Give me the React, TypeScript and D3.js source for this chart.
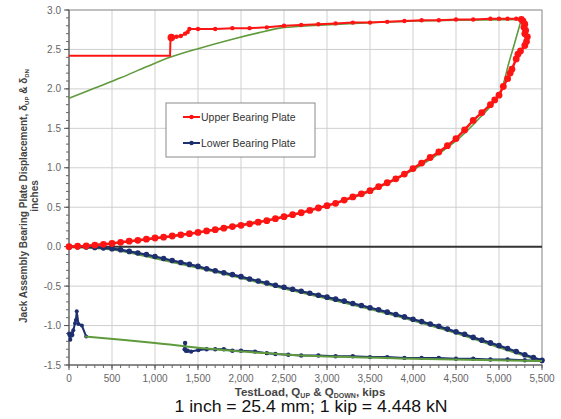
import React from "react";
import * as d3 from "d3";

type P = [number, number];

// upper bearing plate, loading branch
const upperLoad: P[] = [
  [0, 0], [100, 0.005], [200, 0.01], [300, 0.02], [400, 0.03], [500, 0.04], [600, 0.055],
  [700, 0.07], [800, 0.08], [900, 0.095], [1000, 0.11], [1100, 0.12], [1200, 0.135],
  [1300, 0.15], [1400, 0.165], [1500, 0.18], [1600, 0.2], [1700, 0.215], [1800, 0.235],
  [1900, 0.255], [2000, 0.27], [2100, 0.29], [2200, 0.31], [2300, 0.33], [2400, 0.355],
  [2500, 0.38], [2600, 0.405], [2700, 0.43], [2800, 0.46], [2900, 0.49], [3000, 0.52],
  [3100, 0.55], [3200, 0.59], [3300, 0.63], [3400, 0.67], [3500, 0.71], [3600, 0.76],
  [3700, 0.81], [3800, 0.86], [3900, 0.92], [4000, 0.99], [4100, 1.06], [4200, 1.13],
  [4300, 1.2], [4400, 1.28], [4500, 1.37], [4600, 1.48], [4700, 1.6], [4800, 1.7],
  [4900, 1.8], [4950, 1.86], [5000, 1.92], [5050, 2.03], [5100, 2.13], [5130, 2.2],
  [5150, 2.25], [5200, 2.38], [5220, 2.44], [5250, 2.48], [5300, 2.55], [5320, 2.6],
  [5330, 2.66], [5300, 2.7], [5310, 2.74], [5290, 2.78], [5300, 2.82], [5280, 2.86],
  [5260, 2.88],
];

// upper bearing plate, unloading branch
const upperUnload: P[] = [
  [5260, 2.88], [5200, 2.89], [5100, 2.89], [5000, 2.89], [4900, 2.89], [4700, 2.88],
  [4500, 2.88], [4300, 2.87], [4100, 2.87], [3900, 2.86], [3700, 2.85], [3500, 2.84],
  [3300, 2.84], [3100, 2.83], [2900, 2.82], [2700, 2.81], [2500, 2.8], [2300, 2.78],
  [2100, 2.77], [1900, 2.77], [1700, 2.76], [1500, 2.76], [1400, 2.76], [1380, 2.72],
  [1350, 2.7], [1300, 2.67], [1250, 2.66], [1200, 2.66], [1180, 2.64],
];
const upperTail: P[] = [[1180, 2.64], [1175, 2.42], [1000, 2.42], [0, 2.42]];

// lower bearing plate
const lowerLoad: P[] = [
  [0, 0], [100, 0], [200, -0.005], [300, -0.01], [400, -0.015], [500, -0.025], [600, -0.04],
  [700, -0.06], [800, -0.08], [900, -0.1], [1000, -0.125], [1100, -0.15], [1200, -0.175],
  [1300, -0.2], [1400, -0.225], [1500, -0.25], [1600, -0.28], [1700, -0.305], [1800, -0.33],
  [1900, -0.355], [2000, -0.38], [2100, -0.41], [2200, -0.435], [2300, -0.46], [2400, -0.49],
  [2500, -0.515], [2600, -0.54], [2700, -0.565], [2800, -0.59], [2900, -0.615], [3000, -0.64],
  [3100, -0.665], [3200, -0.69], [3300, -0.72], [3400, -0.745], [3500, -0.775], [3600, -0.8],
  [3700, -0.83], [3800, -0.86], [3900, -0.89], [4000, -0.92], [4100, -0.95], [4200, -0.98],
  [4300, -1.01], [4400, -1.045], [4500, -1.08], [4600, -1.11], [4700, -1.15], [4800, -1.185],
  [4900, -1.22], [5000, -1.255], [5100, -1.29], [5200, -1.33], [5300, -1.37], [5400, -1.405],
  [5500, -1.44],
];
const lowerUnload: P[] = [
  [5500, -1.45], [5300, -1.44], [5100, -1.43], [4900, -1.43], [4700, -1.42], [4500, -1.42],
  [4300, -1.41], [4100, -1.41], [3900, -1.41], [3700, -1.4], [3500, -1.4], [3300, -1.39],
  [3100, -1.39], [2900, -1.38], [2700, -1.38], [2550, -1.37], [2400, -1.36], [2300, -1.35],
  [2163, -1.33], [2000, -1.32], [1900, -1.32], [1800, -1.3], [1700, -1.3], [1600, -1.3],
  [1504, -1.31], [1420, -1.33], [1380, -1.32], [1360, -1.32], [1350, -1.22], [1345, -1.3],
];
const lowerEnd: P[] = [
  [200, -1.14], [150, -1.0], [110, -0.98], [90, -0.82], [80, -0.93], [70, -0.97],
  [50, -1.06], [40, -1.12], [30, -1.1], [15, -1.18], [5, -1.12], [0, -1.1],
];

// fitted curves
const fitUpperLoad: P[] = [
  [0, 0], [500, 0.04], [1000, 0.1], [1500, 0.18], [2000, 0.28], [2500, 0.38], [3000, 0.52],
  [3500, 0.7], [4000, 0.97], [4500, 1.34], [4800, 1.66], [5000, 1.92], [5120, 2.35], [5260, 2.88],
];
const fitUpperUnload: P[] = [
  [5260, 2.88], [4500, 2.87], [3500, 2.84], [2800, 2.8], [2450, 2.77], [2200, 2.71],
  [1900, 2.63], [1500, 2.51], [1174, 2.4], [900, 2.28], [600, 2.14], [300, 2.01], [0, 1.88],
];
const fitLowerLoad: P[] = [
  [0, 0], [500, -0.03], [1000, -0.14], [1500, -0.26], [2000, -0.39], [2500, -0.525],
  [3000, -0.65], [3500, -0.785], [4000, -0.93], [4500, -1.09], [5000, -1.27], [5500, -1.45],
];
const fitLowerUnload: P[] = [
  [5500, -1.45], [4000, -1.42], [2700, -1.38], [2163, -1.34], [1500, -1.28], [1000, -1.22],
  [186, -1.14],
];

const yTicks = [-1.5, -1.0, -0.5, 0.0, 0.5, 1.0, 1.5, 2.0, 2.5, 3.0];
const xTicks = [0, 500, 1000, 1500, 2000, 2500, 3000, 3500, 4000, 4500, 5000, 5500];

const RED = "#ff1414";
const BLUE = "#1d2f6f";
const GREEN = "#5f9a3c";

export default function App() {
  const W = 561, H = 419;
  const L = 69, R = 542, T = 10, B = 365;
  const x = d3.scaleLinear().domain([0, 5500]).range([L, R]);
  const y = d3.scaleLinear().domain([-1.5, 3.0]).range([B, T]);
  const line = d3.line<P>().x(d => x(d[0])).y(d => y(d[1]));
  const smooth = d3.line<P>().x(d => x(d[0])).y(d => y(d[1])).curve(d3.curveCatmullRom);
  const font = "Arial, 'Liberation Sans', sans-serif";
  const minorY = d3.range(-15, 31).map(i => i / 10);
  const minorX = d3.range(0, 56).map(i => i * 100);

  const dots = (pts: P[], color: string, r: number) =>
    pts.map((d, i) => <circle key={i} cx={x(d[0])} cy={y(d[1])} r={r} fill={color} />);

  return (
    <svg width={W} height={H} style={{ position: "absolute", left: 0, top: 0, background: "#fff" }}>
      {/* grid */}
      {xTicks.map(t => (
        <line key={"gx" + t} x1={x(t)} x2={x(t)} y1={T} y2={B} stroke="#cfcfcf" strokeWidth={1} />
      ))}
      {yTicks.map(t => (
        <line key={"gy" + t} x1={L} x2={R} y1={y(t)} y2={y(t)} stroke="#cfcfcf" strokeWidth={1} />
      ))}
      <rect x={L} y={T} width={R - L} height={B - T} fill="none" stroke="#9a9a9a" strokeWidth={1} />
      <line x1={L} x2={R} y1={y(0)} y2={y(0)} stroke="#333" strokeWidth={2} />

      {/* axes */}
      <line x1={L} x2={L} y1={T} y2={B} stroke="#555" />
      <line x1={L} x2={R} y1={B} y2={B} stroke="#555" />
      {minorY.map(t => (
        <line key={"my" + t} x1={L - 3} x2={L} y1={y(t)} y2={y(t)} stroke="#666" />
      ))}
      {yTicks.map(t => (
        <g key={"ty" + t}>
          <line x1={L - 5} x2={L} y1={y(t)} y2={y(t)} stroke="#555" />
          <text x={L - 8} y={y(t) + 3.5} textAnchor="end" fontSize={10} fill="#666" fontFamily={font}>
            {t.toFixed(1)}
          </text>
        </g>
      ))}
      {minorX.map(t => (
        <line key={"mx" + t} x1={x(t)} x2={x(t)} y1={B} y2={B + 3} stroke="#666" />
      ))}
      {xTicks.map(t => (
        <g key={"tx" + t}>
          <line x1={x(t)} x2={x(t)} y1={B} y2={B + 5} stroke="#555" />
          <text x={x(t)} y={B + 17} textAnchor="middle" fontSize={10} fill="#666" fontFamily={font}>
            {d3.format(",")(t)}
          </text>
        </g>
      ))}

      {/* fits drawn under the data */}
      <path d={smooth(fitUpperLoad) || ""} fill="none" stroke={GREEN} strokeWidth={1.6} />
      <path d={smooth(fitUpperUnload) || ""} fill="none" stroke={GREEN} strokeWidth={1.6} />
      <path d={smooth(fitLowerLoad) || ""} fill="none" stroke={GREEN} strokeWidth={3} />

      {/* lower bearing plate */}
      <path d={line(lowerLoad) || ""} fill="none" stroke={BLUE} strokeWidth={2.2} />
      {dots(lowerLoad, BLUE, 2.8)}
      <path d={line(lowerUnload) || ""} fill="none" stroke={BLUE} strokeWidth={2} />
      {dots(lowerUnload, BLUE, 2.2)}
      <path d={line(lowerEnd) || ""} fill="none" stroke={BLUE} strokeWidth={2} />
      {dots(lowerEnd, BLUE, 2)}
      <path d={smooth(fitLowerUnload) || ""} fill="none" stroke={GREEN} strokeWidth={2} />

      {/* upper bearing plate */}
      <path d={line(upperLoad) || ""} fill="none" stroke={RED} strokeWidth={2.5} />
      {dots(upperLoad, RED, 3.4)}
      <path d={line(upperUnload) || ""} fill="none" stroke={RED} strokeWidth={2} />
      {dots(upperUnload, RED, 2.2)}
      <path d={line(upperTail) || ""} fill="none" stroke={RED} strokeWidth={2} />
      <circle cx={x(1190)} cy={y(2.65)} r={3.8} fill={RED} />

      {/* legend */}
      <rect x={166} y={103} width={149} height={54} fill="#fff" stroke="#8a8a8a" />
      <line x1={183} x2={200} y1={117} y2={117} stroke={RED} strokeWidth={2} />
      <circle cx={191.5} cy={117} r={2.2} fill={RED} />
      <text x={201} y={120.5} fontSize={10.5} fill="#333" fontFamily={font}>Upper Bearing Plate</text>
      <line x1={183} x2={200} y1={143} y2={143} stroke={BLUE} strokeWidth={2} />
      <circle cx={191.5} cy={143} r={2.2} fill={BLUE} />
      <text x={201} y={146.5} fontSize={10.5} fill="#333" fontFamily={font}>Lower Bearing Plate</text>

      {/* axis titles */}
      <g transform="translate(27,196) rotate(-90)">
        <text x={0} y={0} textAnchor="middle" fontSize={10} fontWeight="bold" fill="#444" fontFamily={font}>
          Jack Assembly Bearing Plate Displacement, δ
          <tspan fontSize={6} dy={2}>UP</tspan>
          <tspan dy={-2}> &amp; δ</tspan>
          <tspan fontSize={6} dy={2}>DN</tspan>
        </text>
        <text x={0} y={11} textAnchor="middle" fontSize={10} fontWeight="bold" fill="#444" fontFamily={font}>
          inches
        </text>
      </g>
      <text x={310} y={396} textAnchor="middle" fontSize={11.5} fontWeight="bold" fill="#444" fontFamily={font}>
        TestLoad, Q<tspan fontSize={7} dy={2}>UP</tspan>
        <tspan dy={-2}> &amp; Q</tspan>
        <tspan fontSize={7} dy={2}>DOWN</tspan>
        <tspan dy={-2}>, kips</tspan>
      </text>
      <text x={311} y={412} textAnchor="middle" fontSize={16} textLength={273} lengthAdjust="spacingAndGlyphs"
        fill="#111" fontFamily={font}>
        1 inch = 25.4 mm; 1 kip = 4.448 kN
      </text>
    </svg>
  );
}
